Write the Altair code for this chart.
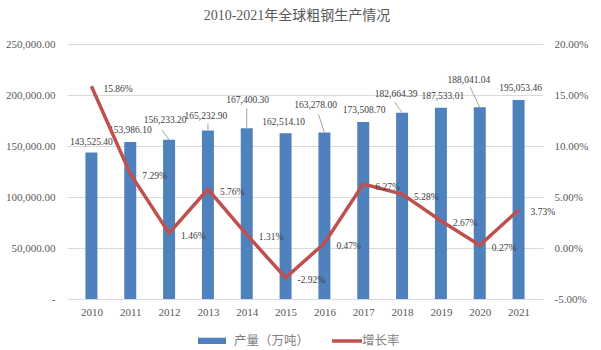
import altair as alt
import pandas as pd

years = [2010, 2011, 2012, 2013, 2014, 2015, 2016, 2017, 2018, 2019, 2020, 2021]
output = [143525.40, 153986.10, 156233.20, 165232.90, 167400.30, 162514.10,
          163278.00, 173508.70, 182664.39, 187533.01, 188041.04, 195053.46]
growth = [15.86, 7.29, 1.46, 5.76, 1.31, -2.92, 0.47, 6.27, 5.28, 2.67, 0.27, 3.73]
series_names = ["产量（万吨）", "增长率"]
left_ticks = [0, 50000, 100000, 150000, 200000, 250000]
right_ticks = [-0.05, 0.0, 0.05, 0.10, 0.15, 0.20]

# label placement (pixels), separate from the data
label_dx = [0, 0, -4, -2, 1, -2, -9, 1, -6, 2, -11, 2]
label_lift = [11, 12, 20, 14, 28, 11, 27, 12, 19, 12, 27, 12]
leader_dx = [0, 0, -7, 0, 0, 0, -6, 0, -7.5, 0, -10, 0]
leader_lift = [0, 0, 9.5, 7, 20, 0, 18, 0, 10.5, 0, 20.5, 0]

W, H = 476, 255
X_DOM = [2009.5, 2021.5]
Y_DOM = [0, 250000]
G_DOM = [-0.05, 0.20]
PX_X = (X_DOM[1] - X_DOM[0]) / W
PX_Y = (Y_DOM[1] - Y_DOM[0]) / H

FONT = "Liberation Serif, Noto Sans CJK SC"
GRAY = "#595959"
BLUE = "#4F81BD"
RED = "#C0504D"

df = pd.DataFrame({
    "year": years,
    "output": output,
    "growth": [g / 100 for g in growth],
})
df["out_text"] = [f"{v:,.2f}" for v in output]
df["g_text"] = [f"{g:.2f}%" for g in growth]
df["label_x"] = [y + d * PX_X for y, d in zip(years, label_dx)]
df["label_y"] = [v + l * PX_Y for v, l in zip(output, label_lift)]
df["lead_x2"] = [y + d * PX_X for y, d in zip(years, leader_dx)]
df["lead_y2"] = [v + l * PX_Y for v, l in zip(output, leader_lift)]
lead_df = df[[l > 0 for l in leader_lift]]

xs = alt.Scale(domain=X_DOM, nice=False, zero=False)
ys = alt.Scale(domain=Y_DOM, nice=False)
gs = alt.Scale(domain=G_DOM, nice=False, zero=False)

bars = alt.Chart(df).mark_bar(size=12, color=BLUE).encode(
    x=alt.X("year:Q", scale=xs, title=None,
            axis=alt.Axis(values=years, format="d", grid=False, ticks=False,
                          domainColor="#D9D9D9", labelPadding=7, labelFont=FONT,
                          labelFontSize=11, labelColor=GRAY)),
    y=alt.Y("output:Q", scale=ys, title=None,
            axis=alt.Axis(values=left_ticks, grid=True, gridColor="#D9D9D9",
                          domain=False, ticks=False, labelPadding=12,
                          labelFont=FONT, labelFontSize=11, labelColor=GRAY,
                          labelExpr="datum.value == 0 ? '-\u00a0\u00a0\u00a0' : format(datum.value, ',.2f')")),
)

leaders = alt.Chart(lead_df).mark_rule(color="#A6A6A6", strokeWidth=1).encode(
    x=alt.X("year:Q", scale=xs, title=None),
    x2="lead_x2:Q",
    y=alt.Y("output:Q", scale=ys, axis=None),
    y2="lead_y2:Q",
)

bar_text = alt.Chart(df).mark_text(align="center", baseline="middle", font=FONT,
                                   fontSize=9.5, color="#404040").encode(
    x=alt.X("label_x:Q", scale=xs, title=None),
    y=alt.Y("label_y:Q", scale=ys, axis=None),
    text="out_text:N",
)

line = alt.Chart(df).mark_line(color=RED, strokeWidth=3.5).encode(
    x=alt.X("year:Q", scale=xs, title=None),
    y=alt.Y("growth:Q", scale=gs, title=None,
            axis=alt.Axis(orient="right", values=right_ticks, grid=False,
                          domain=False, ticks=False, labelPadding=11,
                          labelFont=FONT, labelFontSize=11, labelColor=GRAY,
                          labelExpr="replace(format(datum.value, '.2%'), '\u2212', '-')")),
)

pct_text = alt.Chart(df).mark_text(align="left", baseline="middle", dx=12, dy=2.5,
                                   font=FONT, fontSize=9.5, color="#404040").encode(
    x=alt.X("year:Q", scale=xs, title=None),
    y=alt.Y("growth:Q", scale=gs, axis=None),
    text="g_text:N",
)

leg_df = pd.DataFrame({"name": series_names})
leg_rect = alt.Chart(leg_df.iloc[[0]]).mark_rect(color=BLUE).encode(
    x=alt.value(131), x2=alt.value(159), y=alt.value(293.7), y2=alt.value(300))
leg_line = alt.Chart(leg_df.iloc[[1]]).mark_rule(color=RED, strokeWidth=3.5).encode(
    x=alt.value(265), x2=alt.value(295), y=alt.value(297))
leg_t1 = alt.Chart(leg_df.iloc[[0]]).mark_text(align="left", baseline="middle", font=FONT,
                                               fontSize=12.5, color="#7F7F7F").encode(
    x=alt.value(167), y=alt.value(297), text="name:N")
leg_t2 = alt.Chart(leg_df.iloc[[1]]).mark_text(align="left", baseline="middle", font=FONT,
                                               fontSize=12.5, color="#7F7F7F").encode(
    x=alt.value(295), y=alt.value(297), text="name:N")

chart = alt.layer(
    bars, leaders, bar_text, line, pct_text, leg_rect, leg_line, leg_t1, leg_t2
).resolve_scale(y="independent").properties(
    width=W, height=H,
    title=alt.TitleParams("2010-2021年全球粗钢生产情况", font=FONT, fontSize=14,
                          fontWeight="normal", color=GRAY, anchor="middle",
                          dx=-8, offset=15),
    autosize=alt.AutoSizeParams(type="none"),
    padding={"left": 67, "top": 44, "right": 58, "bottom": 51},
).configure_view(stroke=None)

chart.save("out.html", embed_options={"renderer": "svg", "actions": False})
